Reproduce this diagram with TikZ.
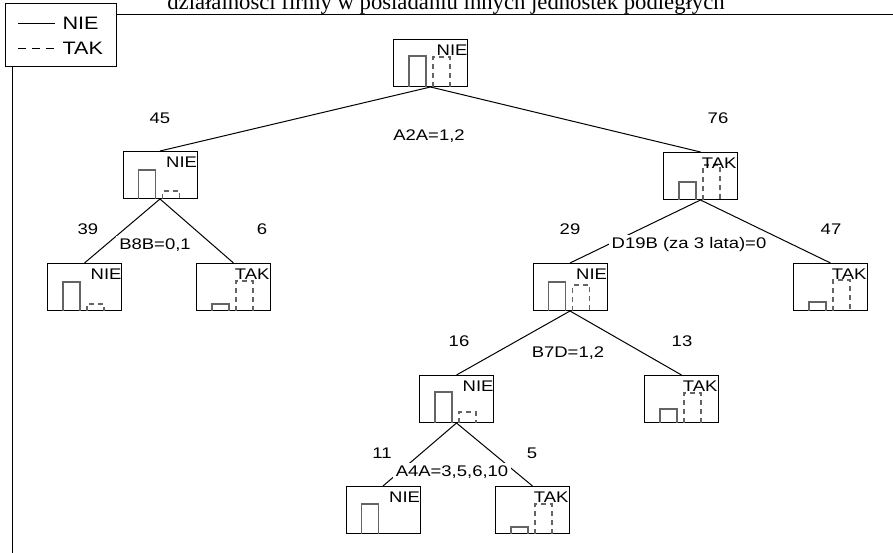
\documentclass[tikz,border=0pt]{standalone}
\usepackage{fontspec}
\setmainfont{Liberation Serif}
\newfontfamily\arialfont[FakeStretch=1.2]{Liberation Sans}
\usetikzlibrary{positioning}
\definecolor{bargray}{RGB}{100,100,100}

% histogram bars inside a tree node
\newcommand{\nieBar}[2]{%
  \begin{scope}[shift={(#1.south west)}]
    \draw[niebar] (16,0) -- (16,-#2) -- (33,-#2) -- (33,0);
  \end{scope}}
\newcommand{\takBar}[2]{%
  \begin{scope}[shift={(#1.south west)}]
    \draw[takbar] (40,0) -- (40,-#2) -- (57,-#2) -- (57,0);
  \end{scope}}

\begin{document}
\begin{tikzpicture}[x=1pt, y=-1pt, line width=1pt,
    treebox/.style={draw, minimum width=74pt, minimum height=47pt, inner sep=0pt},
    classlbl/.style={font=\arialfont\fontsize{15.4}{16}\selectfont, inner sep=0pt},
    countlbl/.style={font=\arialfont\fontsize{15.4}{16}\selectfont, fill=white, inner sep=1pt},
    splitlbl/.style={font=\arialfont\fontsize{15.4}{16}\selectfont, fill=white, inner sep=3pt},
    legendlbl/.style={font=\arialfont\fontsize{18}{20}\selectfont, inner sep=0pt, anchor=west},
    niebar/.style={draw=bargray, line width=1.2pt},
    takbar/.style={draw=bargray, line width=1.2pt, dash pattern=on 5pt off 4pt}]
  \useasboundingbox (0,0) rectangle (893,553);

  % Title (cut at the top) and frame
  \node[anchor=base, inner sep=0pt, font=\fontsize{22.7}{26}\selectfont] (title) at (446,10)
    {działalności firmy w posiadaniu innych jednostek podległych};
  \node[draw, minimum width=111pt, minimum height=63pt, inner sep=0pt] (legend) at (60.5,35.5) {};
  \draw (116,15) -- (893,15);
  \draw (12,67) -- (12,553);

  % Legend
  \draw (18,23.5) -- (55,23.5);
  \draw[dash pattern=on 8pt off 6pt] (18,48.5) -- (55,48.5);
  \node[legendlbl] (legnie) at (62,23.5) {NIE};
  \node[legendlbl] (legtak) at (62,48.5) {TAK};

  % Tree nodes
  \node[treebox] (n0) at (430.5,63) {};
  \node[treebox] (n1) at (160,175) {};
  \node[treebox] (n2) at (700.5,176) {};
  \node[treebox] (n3) at (84.5,287) {};
  \node[treebox] (n4) at (233.5,287) {};
  \node[treebox] (n5) at (570,287) {};
  \node[treebox] (n6) at (830.5,287) {};
  \node[treebox] (n7) at (456.5,399) {};
  \node[treebox] (n8) at (681.5,399) {};
  \node[treebox] (n9) at (383,510) {};
  \node[treebox] (n10) at (532.5,510) {};

  % Bars
  \nieBar{n0}{31} \takBar{n0}{30}
  \nieBar{n1}{29} \takBar{n1}{8}
  \nieBar{n2}{18} \takBar{n2}{35}
  \nieBar{n3}{29} \takBar{n3}{7}
  \nieBar{n4}{7}  \takBar{n4}{30}
  \nieBar{n5}{29} \takBar{n5}{26}
  \nieBar{n6}{9}  \takBar{n6}{31}
  \nieBar{n7}{31} \takBar{n7}{11}
  \nieBar{n8}{14} \takBar{n8}{30}
  \nieBar{n9}{30}
  \nieBar{n10}{7} \takBar{n10}{30}

  % Class labels
  \node[classlbl, below left=5pt and 0pt of n0.north east] (c0) {NIE};
  \node[classlbl, below left=5pt and 0pt of n1.north east] (c1) {NIE};
  \node[classlbl, below left=5pt and 1pt of n2.north east] (c2) {TAK};
  \node[classlbl, below left=5pt and 0pt of n3.north east] (c3) {NIE};
  \node[classlbl, below left=5pt and 1pt of n4.north east] (c4) {TAK};
  \node[classlbl, below left=5pt and 0pt of n5.north east] (c5) {NIE};
  \node[classlbl, below left=5pt and 1pt of n6.north east] (c6) {TAK};
  \node[classlbl, below left=5pt and 0pt of n7.north east] (c7) {NIE};
  \node[classlbl, below left=5pt and 1pt of n8.north east] (c8) {TAK};
  \node[classlbl, below left=5pt and 0pt of n9.north east] (c9) {NIE};
  \node[classlbl, below left=5pt and 1pt of n10.north east] (c10) {TAK};

  % Branches
  \draw (n0.south) -- (n1.north);
  \draw (n0.south) -- (n2.north);
  \draw (n1.south) -- (n3.north);
  \draw (n1.south) -- (n4.north);
  \draw (n2.south) -- (n5.north);
  \draw (n2.south) -- (n6.north);
  \draw (n5.south) -- (n7.north);
  \draw (n5.south) -- (n8.north);
  \draw (n7.south) -- (n9.north);
  \draw (n7.south) -- (n10.north);

  % Split conditions
  \node[splitlbl] (s0) at (429,136.5) {A2A=1,2};
  \node[splitlbl] (s1) at (155,245) {B8B=0,1};
  \node[splitlbl] (s2) at (689,245) {D19B (za 3 lata)=0};
  \node[splitlbl] (s5) at (568,353) {B7D=1,2};
  \node[splitlbl] (s7) at (452,472) {A4A=3,5,6,10};

  % Counts
  \node[countlbl] (k1) at (160,118.5) {45};
  \node[countlbl] (k2) at (718,118.5) {76};
  \node[countlbl] (k3) at (88,229) {39};
  \node[countlbl] (k4) at (262,229) {6};
  \node[countlbl] (k5) at (570,229) {29};
  \node[countlbl] (k6) at (831,229) {47};
  \node[countlbl] (k7) at (459,341) {16};
  \node[countlbl] (k8) at (682,341) {13};
  \node[countlbl] (k9) at (382,453) {11};
  \node[countlbl] (k10) at (532,453) {5};
\end{tikzpicture}
\end{document}
